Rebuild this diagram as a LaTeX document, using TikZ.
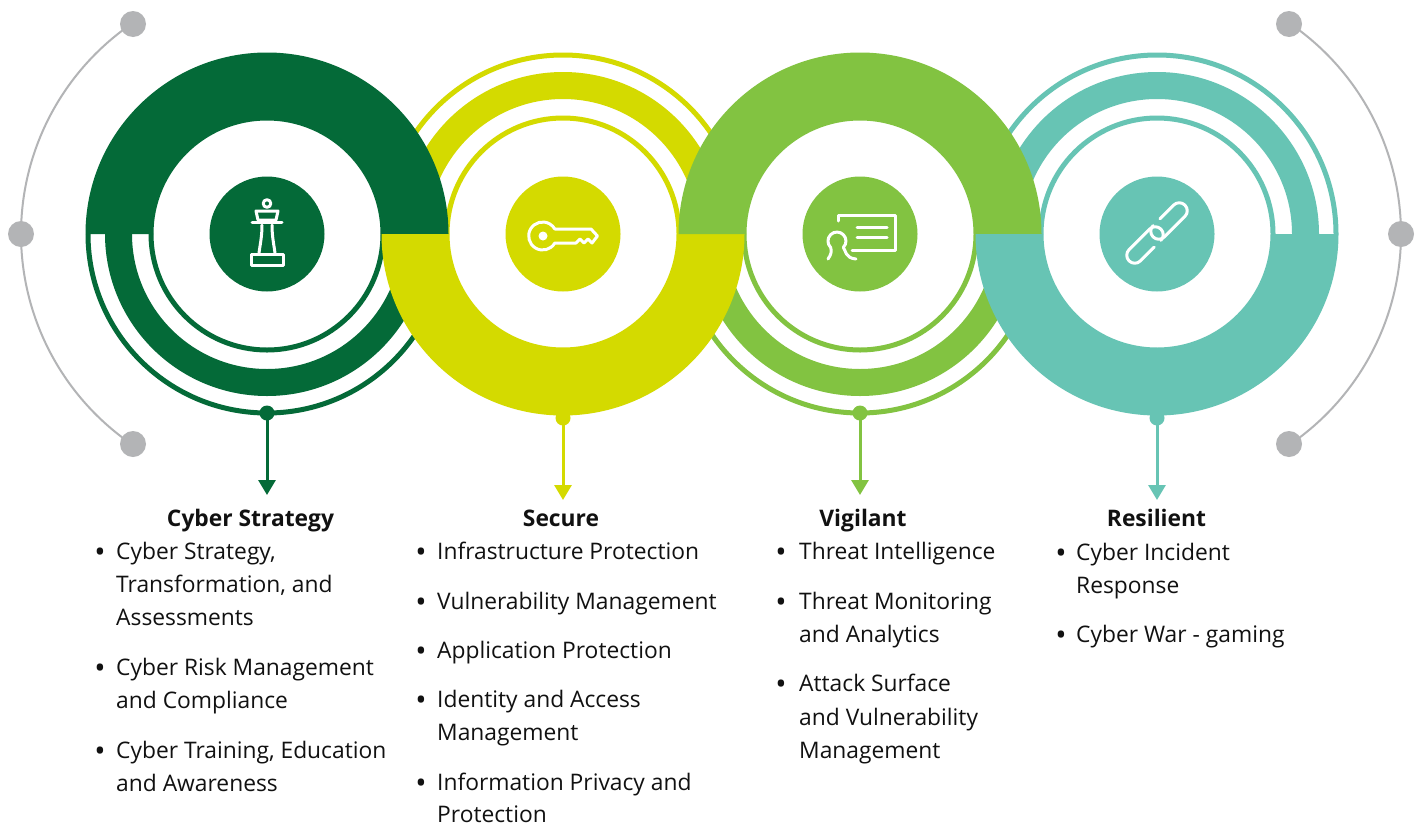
\documentclass[tikz,border=0pt]{standalone}
\usepackage{fontspec}
\setmainfont{Open Sans}
\usetikzlibrary{arrows.meta}
\definecolor{cDark}{HTML}{046A38}
\definecolor{cLime}{HTML}{D4DA00}
\definecolor{cGreen}{HTML}{82C341}
\definecolor{cTeal}{HTML}{67C4B4}
\definecolor{cGray}{HTML}{B3B4B6}
\definecolor{cText}{HTML}{111111}
\tikzset{
  txt/.style={anchor=base west, inner sep=0pt, text=cText, font=\fontsize{22.8}{27}\selectfont},
  bul/.style={anchor=base, inner sep=0pt, text=cText, font=\fontsize{30}{34}\selectfont},
  ttl/.style={anchor=base, inner sep=0pt, text=cText, font=\fontsize{22.8}{27}\selectfont\bfseries},
  hub/.style={circle, inner sep=0pt, minimum size=115pt},
  gdot/.style={circle, inner sep=0pt, minimum size=26pt, fill=cGray},
  sdot/.style={circle, inner sep=0pt, minimum size=15pt},
  icon/.style={draw=white, line width=3pt, line join=round, line cap=round},
  stem/.style={line width=3pt, -{Triangle[width=17pt,length=15pt]}},
  garc/.style={draw=cGray, line width=2pt}
}
\begin{document}
\begin{tikzpicture}[x=1pt, y=-1pt]
\useasboundingbox (0,0) rectangle (1419,825);
\fill[white] (0,0) rectangle (1419,825);

% grey side arcs with dots
\draw[garc] (276,234) ++(124.3:255) arc[start angle=124.3, end angle=235.7, radius=255];
\node[gdot] (gl1) at (133,24) {};
\node[gdot] (gl2) at (21,234) {};
\node[gdot] (gl3) at (133,444) {};
\draw[garc] (1146,234) ++(-55.7:255) arc[start angle=-55.7, end angle=55.7, radius=255];
\node[gdot] (gr1) at (1289,24) {};
\node[gdot] (gr2) at (1401,234) {};
\node[gdot] (gr3) at (1289,444) {};

% thin ring halves
\foreach \cx/\col/\s in {267/cDark/0, 563/cLime/180, 860/cGreen/0, 1157/cTeal/180}{
  \draw[\col, line width=5pt] (\cx,234) ++(\s:179) arc[start angle=\s, end angle=\s+180, radius=179];
  \draw[\col, line width=27pt] (\cx,234) ++(\s:148.5) arc[start angle=\s, end angle=\s+180, radius=148.5];
  \draw[\col, line width=5pt] (\cx,234) ++(\s:116) arc[start angle=\s, end angle=\s+180, radius=116];
}
% thick ring halves
\foreach \cx/\col/\s in {267/cDark/180, 563/cLime/0, 860/cGreen/180, 1157/cTeal/0}{
  \fill[\col] (\cx,234) ++(\s:181.5) arc[start angle=\s, end angle=\s+180, radius=181.5]
     -- ++(\s:68) arc[start angle=\s+180, end angle=\s, radius=113.5] -- cycle;
}

% hubs
\node[hub, fill=cDark] (h1) at (267,234) {};
\node[hub, fill=cLime] (h2) at (563,234) {};
\node[hub, fill=cGreen] (h3) at (860,234) {};
\node[hub, fill=cTeal] (h4) at (1157,234) {};

% icon 1: chess piece
\draw[icon] (267,203.5) circle[radius=3.8];
\draw[icon] (256,211) -- (278,211) -- (276,220) -- (258,220) -- cycle;
\draw[icon] (252,222.5) -- (282,222.5);
\draw[icon] (262,225) .. controls (262,237) and (260,245) .. (259,253);
\draw[icon] (272,225) .. controls (272,237) and (274,245) .. (275,253);
\draw[icon] (251,254) rectangle (283,265);

% icon 2: key
\draw[icon] (554.8,243) arc[start angle=30, end angle=330, radius=14]
  -- (591,229) -- (597.5,236) -- (592,243) -- (588,239) -- (584,243) -- (580,239) -- (576,243) -- cycle;
\fill[white] (543,236) circle[radius=4.5];

% icon 3: certificate
\draw[icon] (838,221) -- (838,215) -- (895,215) -- (895,250) -- (852,250);
\draw[icon] (857,227) -- (887,227);
\draw[icon] (857,237) -- (887,237);
\draw[icon] (828,259) .. controls (831,255) and (832,251) .. (830.6,247.4)
  arc[start angle=135, end angle=405, radius=9]
  .. controls (846,251) and (845,258) .. (856,259);

% icon 4: chain
\begin{scope}[shift={(1145,245)}, rotate=45]
  \draw[icon] (5,8) -- (-14.5,8) arc[start angle=90, end angle=270, radius=8] -- (14.5,-8) arc[start angle=-90, end angle=90, radius=8];
\end{scope}
\begin{scope}[shift={(1169,221)}, rotate=45]
  \draw[icon] (-5,-8) -- (14.5,-8) arc[start angle=-90, end angle=90, radius=8] -- (-14.5,8) arc[start angle=90, end angle=270, radius=8];
\end{scope}

% stems
\node[sdot, fill=cDark] (s1) at (267,413) {};
\node[sdot, fill=cLime] (s2) at (563,418) {};
\node[sdot, fill=cGreen] (s3) at (860,413) {};
\node[sdot, fill=cTeal] (s4) at (1157,418) {};
\coordinate (t1) at (267,495);
\coordinate (t2) at (563,500);
\coordinate (t3) at (860,495);
\coordinate (t4) at (1157,500);
\draw[stem, cDark] (s1.center) -- (t1);
\draw[stem, cLime] (s2.center) -- (t2);
\draw[stem, cGreen] (s3.center) -- (t3);
\draw[stem, cTeal] (s4.center) -- (t4);

% titles
\node[ttl] (T1) at (250.5,526) {Cyber Strategy};
\node[ttl] (T2) at (561,526) {Secure};
\node[ttl] (T3) at (863,526) {Vigilant};
\node[ttl] (T4) at (1156.5,526) {Resilient};

% column 1
\node[bul] (b11) at (100,562) {•};
\node[bul] (b12) at (100,678) {•};
\node[bul] (b13) at (100,761) {•};
\node[txt] (l11) at (116,559) {Cyber Strategy,};
\node[txt] (l12) at (116,592) {Transformation, and};
\node[txt] (l13) at (116,625) {Assessments};
\node[txt] (l14) at (116,675) {Cyber Risk Management};
\node[txt] (l15) at (116,708) {and Compliance};
\node[txt] (l16) at (116,758) {Cyber Training, Education};
\node[txt] (l17) at (116,791) {and Awareness};

% column 2
\node[bul] (b21) at (421,562) {•};
\node[bul] (b22) at (421,612) {•};
\node[bul] (b23) at (421,661) {•};
\node[bul] (b24) at (421,710) {•};
\node[bul] (b25) at (421,793) {•};
\node[txt] (l21) at (437,559) {Infrastructure Protection};
\node[txt] (l22) at (437,609) {Vulnerability Management};
\node[txt] (l23) at (437,658) {Application Protection};
\node[txt] (l24) at (437,707) {Identity and Access};
\node[txt] (l25) at (437,740) {Management};
\node[txt] (l26) at (437,790) {Information Privacy and};
\node[txt] (l27) at (437,822) {Protection};

% column 3
\node[bul] (b31) at (781,562) {•};
\node[bul] (b32) at (781,612) {•};
\node[bul] (b33) at (781,694) {•};
\node[txt] (l31) at (799,559) {Threat Intelligence};
\node[txt] (l32) at (799,609) {Threat Monitoring};
\node[txt] (l33) at (799,642) {and Analytics};
\node[txt] (l34) at (799,691) {Attack Surface};
\node[txt] (l35) at (799,725) {and Vulnerability};
\node[txt] (l36) at (799,758) {Management};

% column 4
\node[bul] (b41) at (1061,563) {•};
\node[bul] (b42) at (1061,645) {•};
\node[txt] (l41) at (1076,560) {Cyber Incident};
\node[txt] (l42) at (1076,593) {Response};
\node[txt] (l43) at (1076,642) {Cyber War - gaming};
\end{tikzpicture}
\end{document}
